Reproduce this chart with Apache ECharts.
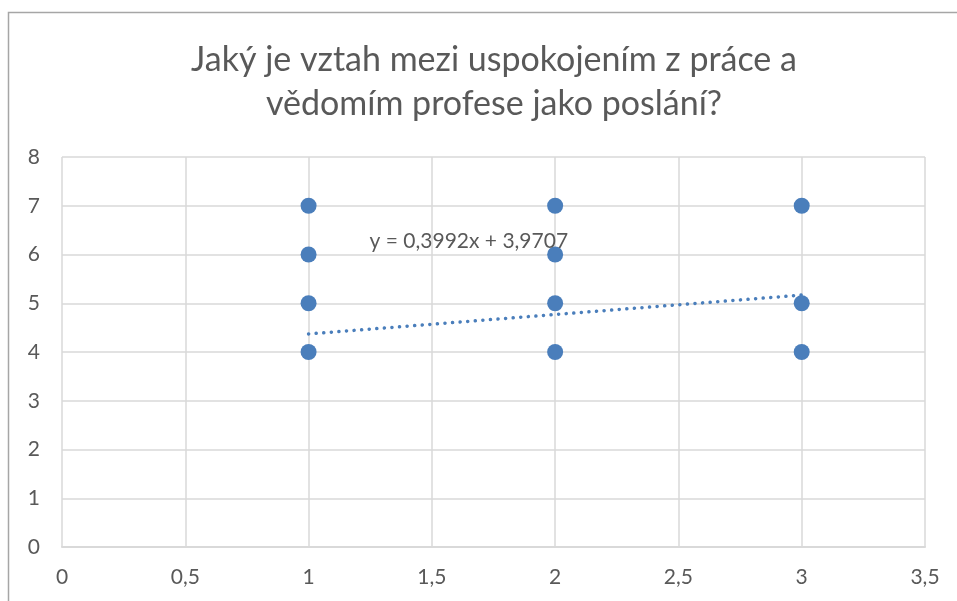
<!DOCTYPE html>
<html>
<head>
<meta charset="utf-8">
<script src="https://cdn.jsdelivr.net/npm/echarts@6/dist/echarts.min.js"></script>
<style>
  html, body { margin: 0; padding: 0; background: #fff; }
  #chart { width: 957px; height: 601px; }
</style>
</head>
<body>
<div id="chart"></div>
<script>
// data
var xValues = [1, 1, 1, 1, 2, 2, 2, 2, 3, 3, 3];
var yValues = [7, 6, 5, 4, 7, 6, 5, 4, 7, 5, 4];
// trendline from the equation shown
var slope = 0.3992;
var intercept = 3.9707;
var trendRange = [1, 3];
var titleText = 'Jaký je vztah mezi uspokojením z práce a\nvědomím profese jako poslání?';

var textColor = '#595959';
var gridColor = '#d9d9d9';
var dotColor = '#4a7ebb';

function fmt(v) {
  return String(v).replace('.', ',');
}

var points = xValues.map(function(x, i) {
  return [x, yValues[i]];
});
var trend = trendRange.map(function(x) {
  return [x, slope * x + intercept];
});
var eqText = 'y = ' + fmt(slope) + 'x + ' + fmt(intercept);

var chart = echarts.init(document.getElementById('chart'));
chart.setOption({
  animation: false,
  textStyle: { fontFamily: 'Lato' },
  graphic: [{
    type: 'rect',
    shape: { x: 8.5, y: 12.5, width: 960, height: 600 },
    style: { fill: 'none', stroke: '#a6a6a6', lineWidth: 1.5 }
  }],
  title: {
    text: titleText,
    left: 489,
    textAlign: 'center',
    top: 33,
    textStyle: {
      color: textColor,
      fontSize: 34,
      fontWeight: 'normal',
      lineHeight: 44,
      fontFamily: 'Lato'
    }
  },
  grid: { left: 62, right: 32, top: 157, bottom: 54 },
  xAxis: {
    type: 'value',
    min: 0,
    max: 3.5,
    interval: 0.5,
    axisLine: { show: true, onZero: false, lineStyle: { color: gridColor, width: 2 } },
    axisTick: { show: false },
    splitLine: { lineStyle: { color: gridColor, width: 1.5 } },
    axisLabel: { color: textColor, fontSize: 21, margin: 20, formatter: fmt }
  },
  yAxis: {
    type: 'value',
    min: 0,
    max: 8,
    interval: 1,
    axisLine: { show: false },
    axisTick: { show: false },
    splitLine: { lineStyle: { color: gridColor, width: 1.5 } },
    axisLabel: { color: textColor, fontSize: 21, margin: 22 }
  },
  series: [{
    type: 'scatter',
    data: points,
    symbolSize: 16,
    itemStyle: { color: dotColor, opacity: 1 },
    z: 3
  }, {
    type: 'line',
    data: trend,
    symbol: 'none',
    lineStyle: { color: dotColor, width: 3.5, type: [0.1, 7.5], cap: 'round' },
    z: 2,
    markPoint: {
      symbol: 'circle',
      symbolSize: 0,
      data: [{ coord: [1.65, 6.27] }],
      label: {
        show: true,
        formatter: eqText,
        color: textColor,
        fontSize: 21,
        fontFamily: 'Lato'
      }
    }
  }]
});
</script>
</body>
</html>
